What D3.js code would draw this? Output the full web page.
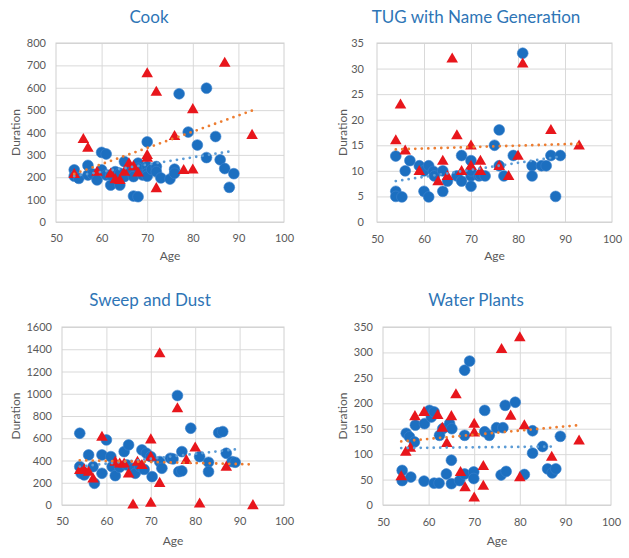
<!DOCTYPE html>
<html><head><meta charset="utf-8">
<script src="https://cdn.jsdelivr.net/npm/d3@7"></script>
<style>
html,body{margin:0;padding:0;background:#fff;}
svg{display:block;}
text{font-family:Lato,"Open Sans",sans-serif;}
</style></head><body>
<svg id="chart" width="629" height="558"></svg>
<script>
// ---------- data ----------
const xTicks = [50, 60, 70, 80, 90, 100];
const titles = ["Cook", "TUG with Name Generation", "Sweep and Dust", "Water Plants"];
const cookYTicks = [0, 100, 200, 300, 400, 500, 600, 700, 800];
const tugYTicks = [0, 5, 10, 15, 20, 25, 30, 35];
const sweepYTicks = [0, 200, 400, 600, 800, 1000, 1200, 1400, 1600];
const waterYTicks = [0, 50, 100, 150, 200, 250, 300, 350];

const cookBlue = [[54,233],[54,205],[55,195],[57,253],[57,210],[58,215],[59,188],[60,311],[61,304],[60,233],[61,210],[62,165],[62,210],[63,225],[64,165],[64,218],[65,270],[65,203],[66,230],[67,203],[67,116],[68,113],[68,263],[68,240],[69,210],[70,358],[70,248],[70,218],[70,205],[71,235],[72,248],[72,225],[73,197],[75,192],[76,236],[76,218],[77,573],[79,402],[81,344],[83,598],[83,288],[85,382],[86,278],[87,239],[88,155],[89,216]];
const cookRed = [[54,215],[56,372],[57,332],[59,225],[62,217],[63,192],[64,188],[65,225],[66,263],[67,250],[68,222],[70,665],[70,300],[70,288],[72,583],[72,152],[76,385],[78,233],[80,505],[80,235],[87,712],[93,390]];

const tugBlue = [[54,12.9],[54,6],[54,5],[55.3,4.9],[56,10],[57,12],[59,11],[60,10],[60,6],[61,11],[61,4.9],[62,9.9],[62.2,9],[64,10],[64,6],[65,8],[67,9],[68,13],[68,8],[70,12],[70,9],[70,7],[70,10],[71.7,9],[72,9.2],[73,9],[75,15],[76,18],[76,11],[77,9],[79,13],[81,33],[83,11],[83,9],[85,11],[86,11],[87,13],[88,5],[89,13]];
const tugRed = [[54,16],[55,23],[56,14],[59,10],[63,8],[64,12],[65,9],[66,32],[67,17],[68,10],[70,15],[70,11],[72,12],[72,10],[76,11],[78,9],[80,13],[81,31],[87,18],[93,15]];

const sweepBlue = [[54,645],[54,345],[54.3,285],[55,270],[56,450],[57,345],[57.3,195],[59,450],[59,285],[60,585],[61,435],[61.3,345],[62,264],[63,340],[64,480],[65,540],[64.6,360],[66,330],[66.5,285],[67.5,350],[68,495],[68.5,320],[69,465],[70,435],[70.3,255],[72,390],[72.5,330],[74.4,420],[75,414],[76,984],[76.3,300],[77,306],[77,480],[79,690],[81,435],[83,384],[83,300],[85.3,650],[86.2,660],[87,465],[88.3,390],[89,384]];
const sweepRed = [[54,315],[55,321],[56,300],[57,240],[59,615],[62,390],[63,375],[64,375],[65,285],[66,6],[67,390],[68,360],[70,591],[70,435],[70,21],[72,200],[72,1365],[76,870],[78,405],[80,519],[81,15],[87,345],[93,0]];

const waterBlue = [[54.2,68],[54.2,48],[56.1,55],[55.1,141],[55.8,134],[56.9,124],[57.1,157],[59,47],[59.1,160],[60.2,186],[60.6,173],[61.2,183],[61.2,43],[62.3,43],[63.1,150],[62.4,137],[63.9,61],[64.6,160],[65,88],[65,42],[65.1,150],[66.8,48],[67.9,137],[67.9,265],[67.9,61],[69,283],[69.9,65],[69.9,52],[72.3,186],[72.3,144],[73.3,137],[74.9,152],[76.3,152],[76.8,196],[79,202],[75.9,59],[77,66],[81,60],[82.8,146],[82.8,102],[85,115],[86.1,71],[87.1,63],[87.9,71],[88.9,135]];
const waterRed = [[54,57],[55,105],[56,113],[57,175],[59,183],[62,177],[63,152],[64,122],[65,175],[66,218],[67,65],[68,35],[70,160],[70,143],[70,15],[72,77],[72,38],[76,307],[78,176],[80,330],[80,55],[81,157],[87,95],[93,127]];

// trendline end points
const cookBlueTrend = [[54,205],[88,315]];
const cookRedTrend = [[54,215],[93,498]];
const tugBlueTrend = [[54,8],[89,12.8]];
const tugRedTrend = [[54,14.2],[93,15.3]];
const sweepBlueTrend = [[54,345],[89,500]];
const sweepRedTrend = [[54,402],[93,365]];
const waterBlueTrend = [[54,112],[88,115]];
const waterRedTrend = [[54,125],[93,157]];

// ---------- layout ----------
const layouts = [
  {l:56, r:284, t:43, b:222, tx:149, ty:23, durX:20, pad:10, xLabY:242, ageY:260},
  {l:377, r:612, t:43, b:222, tx:476, ty:23, durX:347, pad:13, xLabY:243, ageY:260},
  {l:62, r:284, t:327, b:505, tx:150, ty:306, durX:20, pad:10, xLabY:525, ageY:545},
  {l:383, r:611, t:327, b:505, tx:476, ty:306, durX:347, pad:10, xLabY:526, ageY:545}
];
const panels = [
  {blue:cookBlue, red:cookRed, bt:cookBlueTrend, rt:cookRedTrend, yt:cookYTicks},
  {blue:tugBlue, red:tugRed, bt:tugBlueTrend, rt:tugRedTrend, yt:tugYTicks},
  {blue:sweepBlue, red:sweepRed, bt:sweepBlueTrend, rt:sweepRedTrend, yt:sweepYTicks},
  {blue:waterBlue, red:waterRed, bt:waterBlueTrend, rt:waterRedTrend, yt:waterYTicks}
];

const svg = d3.select("#chart");
const BLUE = "#1c6fc0", RED = "#e8161c", ORANGE = "#ed7d31", LBLUE = "#5b9bd5";
const GRID = "#d9d9d9", LABEL = "#595959", TITLE = "#2e75b6";
const fmt = d3.format("d");

panels.forEach((p, i) => {
  const L = layouts[i];
  const yMax = p.yt[p.yt.length - 1];
  const x = d3.scaleLinear().domain([50, 100]).range([L.l, L.r]);
  const y = d3.scaleLinear().domain([0, yMax]).range([L.b, L.t]);
  const g = svg.append("g");

  // gridlines
  g.append("g").attr("transform", `translate(${L.l},0)`)
    .call(d3.axisLeft(y).tickValues(p.yt).tickSize(-(L.r - L.l)).tickFormat(""))
    .call(s => s.select(".domain").remove())
    .call(s => s.selectAll("line").attr("stroke", GRID).attr("stroke-width", 1));
  g.append("g").attr("transform", `translate(0,${L.b})`)
    .call(d3.axisBottom(x).tickValues(xTicks.slice(1, -1)).tickSize(-(L.b - L.t)).tickFormat(""))
    .call(s => s.select(".domain").remove())
    .call(s => s.selectAll("line").attr("stroke", GRID).attr("stroke-width", 1));
  g.append("rect").attr("x", L.l).attr("y", L.t).attr("width", L.r - L.l).attr("height", L.b - L.t)
    .attr("fill", "none").attr("stroke", "#d0d0d0").attr("stroke-width", 1);

  // axes labels
  g.append("g").attr("transform", `translate(${L.l},0)`)
    .call(d3.axisLeft(y).tickValues(p.yt).tickFormat(fmt).tickSize(0).tickPadding(L.pad))
    .call(s => s.select(".domain").remove())
    .call(s => s.selectAll("text").attr("fill", LABEL).style("font-size", "11px"));
  g.append("g").attr("transform", `translate(0,${L.b})`)
    .call(d3.axisBottom(x).tickValues(xTicks).tickFormat(fmt).tickSize(0).tickPadding(L.xLabY - L.b - 7.8))
    .call(s => s.select(".domain").remove())
    .call(s => s.selectAll("text").attr("fill", LABEL).style("font-size", "11px"));

  // titles
  g.append("text").attr("x", L.tx).attr("y", L.ty).attr("text-anchor", "middle")
    .attr("fill", TITLE).style("font-size", "17px").text(titles[i]);
  g.append("text").attr("x", (L.l + L.r) / 2).attr("y", L.ageY).attr("text-anchor", "middle")
    .attr("fill", LABEL).style("font-size", "12px").text("Age");
  g.append("text").attr("transform", `translate(${L.durX},${(L.t + L.b) / 2}) rotate(-90)`)
    .attr("text-anchor", "middle").attr("fill", LABEL).style("font-size", "12px").text("Duration");

  // markers
  g.append("g").selectAll("circle").data(p.blue).join("circle")
    .attr("cx", d => x(d[0])).attr("cy", d => y(d[1])).attr("r", 5.4)
    .attr("fill", BLUE).attr("stroke", "#3a82cc").attr("stroke-width", 0.6);
  const tri = d3.symbol(d3.symbolTriangle, 58);
  g.append("g").selectAll("path").data(p.red).join("path")
    .attr("d", tri).attr("transform", d => `translate(${x(d[0])},${y(d[1]) + 0.8})`)
    .attr("fill", RED);

  // trendlines
  const line = d3.line().x(d => x(d[0])).y(d => y(d[1]));
  g.append("path").datum(p.bt).attr("d", line).attr("fill", "none")
    .attr("stroke", LBLUE).attr("stroke-width", 2.8).attr("stroke-linecap", "round")
    .attr("stroke-dasharray", "0 6.5");
  g.append("path").datum(p.rt).attr("d", line).attr("fill", "none")
    .attr("stroke", ORANGE).attr("stroke-width", 2.8).attr("stroke-linecap", "round")
    .attr("stroke-dasharray", "0 6.5");
});
</script>
</body></html>
